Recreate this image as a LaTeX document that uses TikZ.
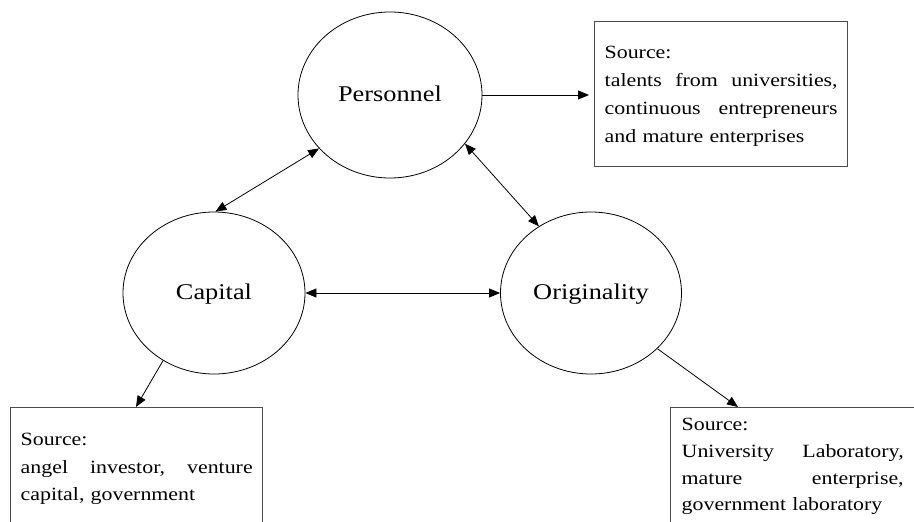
\documentclass[tikz,border=0pt]{standalone}
\usepackage{fontspec}
\setmainfont{Liberation Serif}[FakeStretch=1.17]
\usetikzlibrary{shapes.geometric,arrows.meta,calc}

\tikzset{
  factor/.style={ellipse, draw, line width=0.8pt, inner sep=0pt,
    font=\fontsize{22.5}{27}\selectfont, text height=15pt, text depth=3pt},
  link/.style={line width=0.8pt, {Triangle[length=11pt,width=9pt]}-{Triangle[length=11pt,width=9pt]}},
  feed/.style={line width=0.8pt, -{Triangle[length=11pt,width=9pt]}},
  srcbox/.style={rectangle, draw=black!70, line width=1.4pt, anchor=north west,
    inner ysep=0pt, align=left},
}

\begin{document}
\begin{tikzpicture}[x=1pt,y=-1pt]
  \useasboundingbox (0,0) rectangle (914,522);
  \clip (0,0) rectangle (914,522);

  % the three factors
  \node[factor, minimum width=184pt, minimum height=166pt] (per) at (390,95) {Personnel};
  \node[factor, minimum width=182pt, minimum height=162pt] (cap) at (214,293) {Capital};
  \node[factor, minimum width=181pt, minimum height=162pt] (ori) at (591,293) {Originality};

  % where each factor comes from; full lines are spread to the box width
  \node[srcbox, inner xsep=10pt, text width=233pt,
        font=\fontsize{18.7}{28}\selectfont] (srcP) at (594,21)
    {\rule{0pt}{37pt}Source:\\
     \makebox[233pt][l]{talents\hfill from\hfill universities,}\\
     \makebox[233pt][l]{continuous\hfill entrepreneurs}\\
     and mature enterprises\rule[-24pt]{0pt}{24pt}};

  \node[srcbox, inner xsep=10pt, text width=232pt,
        font=\fontsize{18.7}{27.5}\selectfont] (srcB) at (10,407)
    {\rule{0pt}{38pt}Source:\\
     \makebox[232pt][l]{angel\hfill investor,\hfill venture}\\
     capital, government\rule[-40pt]{0pt}{40pt}};

  \node[srcbox, inner xsep=11pt, text width=224pt,
        font=\fontsize{18.7}{26.7}\selectfont] (srcO) at (670,407)
    {\rule{0pt}{23pt}Source:\\
     \makebox[222pt][l]{University\hfill Laboratory,}\\
     \makebox[222pt][l]{mature\hfill enterprise,}\\
     government laboratory\rule[-30pt]{0pt}{30pt}};

  % mutual relations
  \draw[link] (per.217) -- (cap.89);
  \draw[link] (per.327) -- (ori.128);
  \draw[link] (cap.east) -- (ori.west);

  % sources
  \draw[feed, shorten >=5pt] (per.east) -- (per.east -| srcP.west);
  \draw[feed] (cap.233) -- ($(srcB.north west)+(126,0)$);
  \draw[feed] (ori.320) -- ($(srcO.north west)+(68,0)$);
\end{tikzpicture}
\end{document}
